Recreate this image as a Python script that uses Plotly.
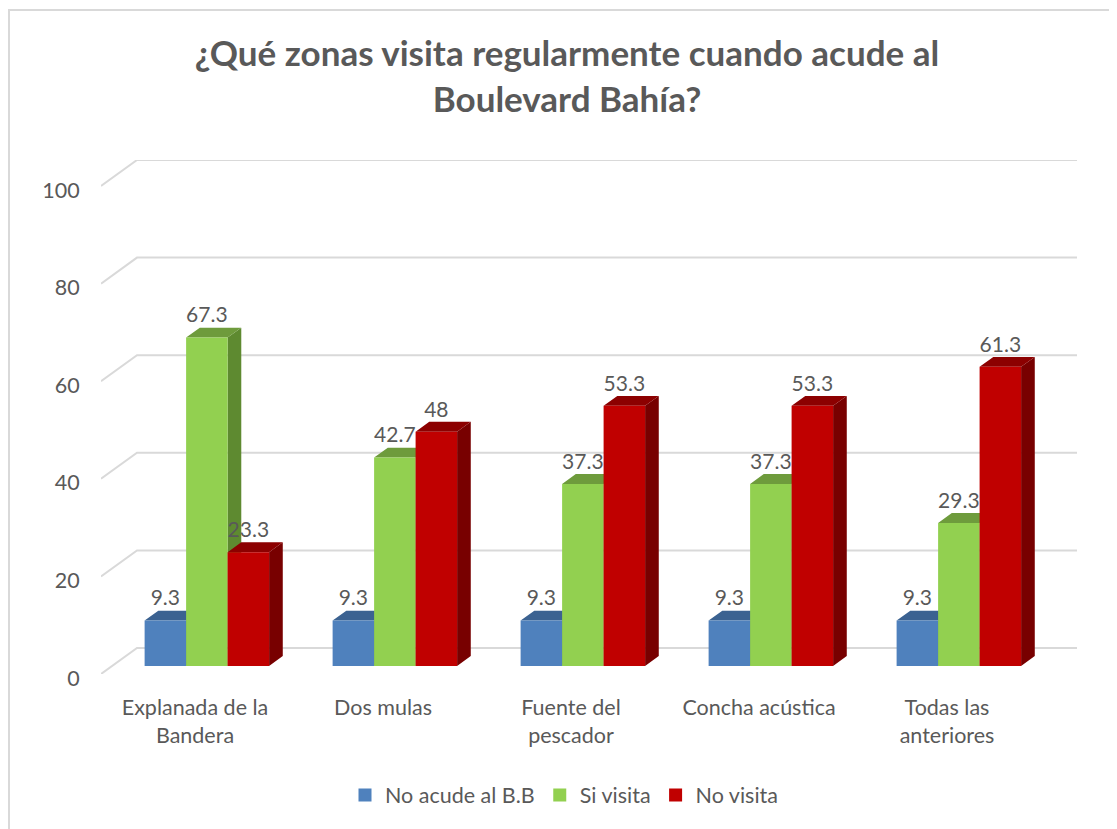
import plotly.graph_objects as go

categories = ["Explanada de la<br>Bandera", "Dos mulas", "Fuente del<br>pescador",
              "Concha acústica", "Todas las<br>anteriores"]
series_names = ["No acude al B.B", "Si visita", "No visita"]
no_acude = [9.3, 9.3, 9.3, 9.3, 9.3]
si_visita = [67.3, 42.7, 37.3, 37.3, 29.3]
no_visita = [23.3, 48, 53.3, 53.3, 61.3]
y_ticks = [0, 20, 40, 60, 80, 100]

series_values = [no_acude, si_visita, no_visita]
front_colors = ["#4F81BD", "#92D050", "#C00000"]
top_colors = ["#3B6291", "#6E9B3C", "#8C0000"]
side_colors = ["#345983", "#5E8A30", "#780000"]

FONT = "Lato"
TXT = "#595959"
GRID = "#D9D9D9"

# 3D projection parameters (in axis units)
DX = 0.1915      # full floor depth, category units
DY = 5.33        # full floor depth, value units
F_FRONT = 0.31   # depth fraction where bar fronts sit
BAR_D = 0.38     # bar depth fraction
W = 0.2207       # bar width
G_LEFT = -0.268  # left edge of group relative to category position

bx = BAR_D * DX
by = BAR_D * DY
base = F_FRONT * DY

fig = go.Figure()

# walls / gridlines
for v in y_ticks:
    fig.add_trace(go.Scatter(
        x=[-0.5, -0.5 + DX, len(categories) - 0.5 + DX],
        y=[v, v + DY, v + DY], mode="lines",
        line=dict(color=GRID, width=2), hoverinfo="skip", showlegend=False))

# bars (side, top, front per series, left to right)
for s, vals in enumerate(series_values):
    side_x, side_y, top_x, top_y, fr_x, fr_y = [], [], [], [], [], []
    for i, v in enumerate(vals):
        xl = i + G_LEFT + s * W
        xr = xl + W
        b0 = base
        b1 = base + v
        side_x += [xr, xr, xr + bx, xr + bx, xr, None]
        side_y += [b0, b1, b1 + by, b0 + by, b0, None]
        top_x += [xl, xr, xr + bx, xl + bx, xl, None]
        top_y += [b1, b1, b1 + by, b1 + by, b1, None]
        fr_x += [xl, xr, xr, xl, xl, None]
        fr_y += [b0, b0, b1, b1, b0, None]
    for xs, ys, col in [(side_x, side_y, side_colors[s]),
                        (top_x, top_y, top_colors[s]),
                        (fr_x, fr_y, front_colors[s])]:
        fig.add_trace(go.Scatter(x=xs, y=ys, mode="lines", fill="toself",
                                 fillcolor=col, line=dict(width=0, color=col),
                                 hoverinfo="skip", showlegend=False))

# data labels
for s, vals in enumerate(series_values):
    fig.add_trace(go.Scatter(
        x=[i + G_LEFT + s * W + W / 2 for i in range(len(vals))],
        y=[base + v + by for v in vals],
        mode="text", text=[f"{v:g}" for v in vals], textposition="top center",
        textfont=dict(family=FONT, size=21, color=TXT),
        cliponaxis=False, hoverinfo="skip", showlegend=False))

# legend entries
for s, name in enumerate(series_names):
    fig.add_trace(go.Scatter(x=[None], y=[None], mode="markers", name=name,
                             marker=dict(symbol="square", size=13, color=front_colors[s])))

# page body adds an 8px margin, so the figure is laid out 8px up/left
OFF = 8
FW, FH = 1117 - OFF, 829 - OFF
L, T = 101 - OFF, 160 - OFF
pw, ph = 976, 514
R = FW - L - pw
B = FH - T - ph

def px_x(x):   # reference pixel -> paper x
    return (x - OFF - L) / pw

def px_y(y):   # reference pixel -> paper y
    return (T + ph - (y - OFF)) / ph

fig.update_layout(
    width=FW, height=FH,
    margin=dict(l=L, r=R, t=T, b=B),
    paper_bgcolor="white", plot_bgcolor="white",
    font=dict(family=FONT, size=21, color=TXT),
    title=dict(text="<b>¿Qué zonas visita regularmente cuando acude al<br>Boulevard Bahía?</b>",
               x=(567 - OFF) / FW, xanchor="center", xref="container",
               y=1 - 58 / FH, yanchor="top", yref="container",
               font=dict(family=FONT, size=35, color=TXT)),
    xaxis=dict(range=[-0.5, len(categories) - 0.5 + DX], tickvals=list(range(len(categories))),
               ticktext=categories, showgrid=False, zeroline=False, showline=False,
               ticks="outside", ticklen=14, tickcolor="rgba(0,0,0,0)",
               tickfont=dict(family=FONT, size=21.5, color=TXT), fixedrange=True),
    yaxis=dict(range=[0, 100 + DY], tickvals=y_ticks, showgrid=False, zeroline=False,
               showline=False, ticks="outside", ticklen=16, tickcolor="rgba(0,0,0,0)",
               ticklabelshift=4,
               tickfont=dict(family=FONT, size=21.5, color=TXT), fixedrange=True),
    legend=dict(orientation="h", x=px_x(564), xanchor="center",
                y=px_y(795), yanchor="middle",
                font=dict(family=FONT, size=21.5, color=TXT), itemwidth=30),
    shapes=[dict(type="rect", xref="paper", yref="paper",
                 x0=px_x(9), x1=px_x(1250),
                 y0=px_y(950), y1=px_y(10),
                 line=dict(color=GRID, width=2), fillcolor="rgba(0,0,0,0)", layer="below")],
)

fig.write_html("out.html")
